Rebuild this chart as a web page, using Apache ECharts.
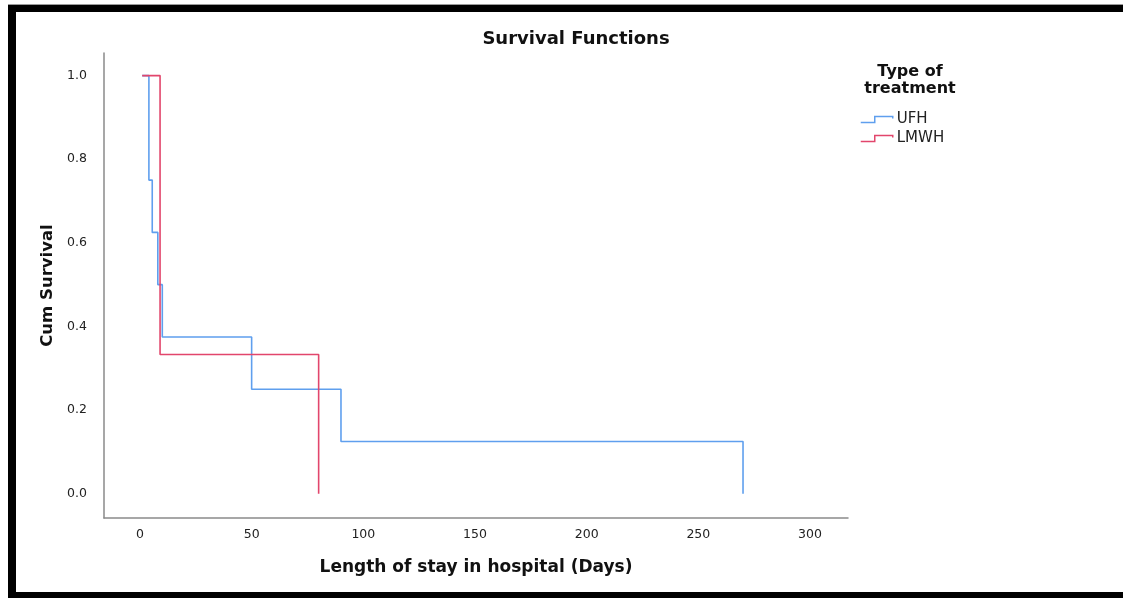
<!DOCTYPE html>
<html>
<head>
<meta charset="utf-8">
<script src="https://cdn.jsdelivr.net/npm/echarts@6/dist/echarts.min.js"></script>
<style>
html,body{margin:0;padding:0;background:#fff;}
#chart{width:1123px;height:598px;}
</style>
</head>
<body>
<div id="chart"></div>
<script>
// ---- data ----
const ufhTimes = [1, 4, 5.5, 8, 10, 50, 90, 270];
const ufhSurvival = [1, 0.75, 0.625, 0.5, 0.375, 0.25, 0.125, 0];
const lmwhTimes = [1, 9, 80];
const lmwhSurvival = [1, 0.333, 0];
const xTickValues = [0, 50, 100, 150, 200, 250, 300];
const yTickValues = [0, 0.2, 0.4, 0.6, 0.8, 1.0];
const seriesNames = ['UFH', 'LMWH'];

const BLUE = '#5f9fee';
const RED = '#e2466c';
const FONT = 'DejaVu Sans';

function pairs(xs, ys) { return xs.map((x, i) => [x, ys[i]]); }

const chart = echarts.init(document.getElementById('chart'), null, {renderer: 'canvas'});
chart.setOption({
  backgroundColor: '#ffffff',
  animation: false,
  title: [
    {text: 'Survival Functions', left: 571, top: 25, textAlign: 'center',
     textStyle: {fontFamily: FONT, fontSize: 18, fontWeight: 'bold', color: '#111'}},
    {text: 'Type of\ntreatment', left: 905, top: 58, textAlign: 'center',
     textStyle: {fontFamily: FONT, fontSize: 16, fontWeight: 'bold', color: '#111', lineHeight: 17}}
  ],
  legend: {
    orient: 'vertical', left: 855, top: 107,
    itemWidth: 32, itemHeight: 6, itemGap: 4,
    icon: 'path://M0,6L14,6L14,0L32,0L32,2',
    textStyle: {fontFamily: FONT, fontSize: 15, color: '#222', padding: [0, 0, 0, -1]},
    data: [
      {name: seriesNames[0], itemStyle: {color: 'rgba(0,0,0,0)', borderColor: BLUE, borderWidth: 1.5}},
      {name: seriesNames[1], itemStyle: {color: 'rgba(0,0,0,0)', borderColor: RED, borderWidth: 1.5}}
    ]
  },
  grid: {left: 104, top: 53, right: 275, bottom: 80},
  xAxis: {
    type: 'value', min: -16.1, max: 317,
    name: 'Length of stay in hospital (Days)', nameLocation: 'middle', nameGap: 41,
    nameTextStyle: {fontFamily: FONT, fontSize: 17, fontWeight: 'bold', color: '#111'},
    axisLine: {show: true, onZero: false, lineStyle: {color: '#8a8a8a', width: 1.5}},
    axisTick: {show: false},
    splitLine: {show: false},
    axisLabel: {customValues: xTickValues, fontFamily: FONT, fontSize: 12.5, color: '#222', margin: 10}
  },
  yAxis: {
    type: 'value', min: -0.058, max: 1.054,
    name: 'Cum Survival', nameLocation: 'middle', nameGap: 47,
    nameTextStyle: {fontFamily: FONT, fontSize: 16.5, fontWeight: 'bold', color: '#111'},
    axisLine: {show: true, onZero: false, lineStyle: {color: '#8a8a8a', width: 1.5}},
    axisTick: {show: false},
    splitLine: {show: false},
    axisLabel: {customValues: yTickValues, fontFamily: FONT, fontSize: 12.5, color: '#222', margin: 17,
      formatter: v => v.toFixed(1)}
  },
  series: [
    {name: seriesNames[0], type: 'line', step: 'end', showSymbol: false, symbol: 'none',
     color: BLUE, lineStyle: {color: BLUE, width: 1.6}, data: pairs(ufhTimes, ufhSurvival)},
    {name: seriesNames[1], type: 'line', step: 'end', showSymbol: false, symbol: 'none',
     color: RED, lineStyle: {color: RED, width: 1.6}, data: pairs(lmwhTimes, lmwhSurvival)}
  ],
  graphic: [
    {type: 'rect', shape: {x: 8, y: 4, width: 1115, height: 1}, style: {fill: '#9a9a9a'}, silent: true},
    {type: 'rect', shape: {x: 8, y: 5, width: 1115, height: 7}, style: {fill: '#000'}, silent: true},
    {type: 'rect', shape: {x: 8, y: 5, width: 8, height: 593}, style: {fill: '#000'}, silent: true},
    {type: 'rect', shape: {x: 8, y: 592, width: 1115, height: 6}, style: {fill: '#000'}, silent: true}
  ]
});
</script>
</body>
</html>
